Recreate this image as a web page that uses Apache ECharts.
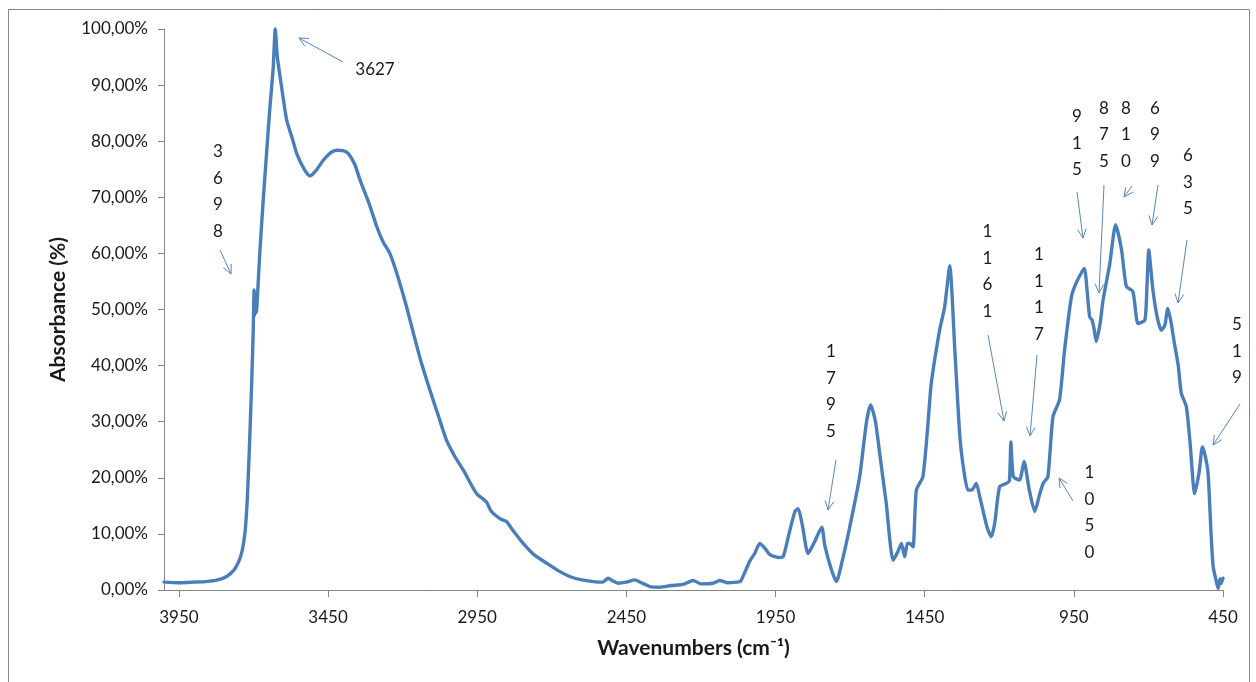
<!DOCTYPE html>
<html>
<head>
<meta charset="utf-8">
<script src="https://cdn.jsdelivr.net/npm/echarts@6/dist/echarts.min.js"></script>
<style>
  html, body { margin: 0; padding: 0; background: #fff; }
  #chart { width: 1256px; height: 682px; }
</style>
</head>
<body>
<div id="chart"></div>
<script>
// IR spectrum: wavenumber (cm-1) and absorbance (%)
const wavenumbers = [
  4000, 3950, 3900, 3860, 3820, 3790, 3765, 3750, 3738, 3728, 3721, 3714, 3706, 3701,
  3698, 3696, 3693, 3690, 3687, 3679, 3668, 3656, 3645, 3634, 3627, 3620, 3606, 3589,
  3570, 3555, 3530, 3511, 3490, 3466, 3440, 3421, 3400, 3382, 3360, 3343, 3310, 3287,
  3265, 3243, 3220, 3187, 3164, 3140, 3109, 3080, 3053, 3025, 2997, 2965, 2952, 2930,
  2919, 2905, 2891, 2870, 2852, 2830, 2796, 2760, 2718, 2680, 2640, 2600, 2561, 2530,
  2511, 2495, 2478, 2450, 2422, 2400, 2371, 2338, 2300, 2260, 2226, 2200, 2160, 2137,
  2110, 2080, 2068, 2050, 2036, 2020, 2003, 1985, 1969, 1940, 1925, 1905, 1885, 1874,
  1860, 1841, 1820, 1795, 1785, 1765, 1746, 1725, 1701, 1668, 1645, 1631, 1615, 1600,
  1579, 1556, 1540, 1528, 1517, 1508, 1500, 1489, 1478, 1456, 1440, 1428, 1400, 1383,
  1366, 1349, 1332, 1318, 1305, 1290, 1277, 1265, 1255, 1240, 1227, 1215, 1199, 1176,
  1166, 1161, 1153, 1132, 1117, 1100, 1081, 1065, 1053, 1037, 1020, 998, 981, 958,
  940, 915, 905, 897, 889, 882, 875, 862, 852, 830, 810, 790, 774, 752, 735, 712,
  705, 699, 685, 670, 657, 645, 635, 625, 613, 600, 590, 573, 560, 545, 530, 519,
  510, 500, 490, 483, 470, 466, 460, 456, 450
];
const absorbance = [
  1.4, 1.3, 1.4, 1.5, 1.8, 2.4, 3.6, 5.0, 7.0, 10.5, 16, 25, 37, 46,
  53.5, 49, 53, 49.5, 52, 60, 69, 78, 86, 93, 100, 95, 89.7, 83.8,
  80.5, 77.8, 75, 73.8, 74.8, 76.6, 78, 78.4, 78.3, 77.8, 75.8, 73.1, 68.5, 64.8,
  62, 60, 56.5, 50.5, 45.8, 41, 35.7, 31, 26.7, 23.8, 21.4, 18.3, 17.2, 16.2,
  15.7, 14.2, 13.4, 12.6, 12.2, 10.6, 8.3, 6.3, 4.8, 3.5, 2.4, 1.8, 1.5, 1.4,
  2.1, 1.6, 1.2, 1.4, 1.8, 1.3, 0.6, 0.5, 0.8, 1.0, 1.7, 1.1, 1.2, 1.7,
  1.3, 1.4, 1.5, 3.5, 5.2, 6.5, 8.3, 7.4, 6.3, 5.8, 5.9, 10, 14, 14.5,
  11.5, 6.5, 8.5, 11.2, 8, 4, 1.5, 5.5, 11.3, 20.2, 30, 33, 30, 24,
  15.5, 5.3, 6.8, 8.3, 5.9, 8.3, 8.3, 7.7, 17.8, 20.2, 29, 36.8, 46.3, 50.5,
  57.8, 42.8, 27.3, 21, 17.8, 17.9, 19, 16.5, 14.3, 11, 9.5, 12, 18.4, 19,
  19.5, 26.4, 20.2, 19.6, 22.9, 18, 14, 17, 19, 20.2, 30.9, 33.9, 42.8, 52.3,
  55, 57.3, 53, 48.7, 48.1, 46.5, 44.3, 47.5, 51.7, 58, 65.1, 60.6, 54.1, 53.2, 47.5, 48.1,
  54, 60.6, 53.5, 48.5, 46.3, 47.2, 50.2, 48, 44, 40, 35.1, 32.7, 26, 17.2, 21, 25.5,
  24, 20.8, 10, 4.2, 1.0, 0.3, 2.0, 1.2, 2.1
];
// Tick positions on the wavenumber axis
const xTickValues = [3950, 3450, 2950, 2450, 1950, 1450, 950, 450];
// Band assignments marked on the spectrum
const bandLabels = ['3627', '3698', '1795', '1161', '1117', '1050', '915', '875', '810', '699', '635', '519'];

// Placement of each band label and its pointer (pixels)
const bandLayout = [
  { horizontal: true, x: 375, y: 70, arrow: [343, 62, 299, 38] },
  { x: 218, y: 151.7, arrow: [220, 250, 231, 274] },
  { x: 831, y: 351.7, arrow: [836, 460, 828, 510] },
  { x: 987.5, y: 231.7, arrow: [988, 335, 1004, 421] },
  { x: 1039, y: 255, arrow: [1037, 355, 1030, 436] },
  { x: 1089.5, y: 472.7, arrow: [1073, 501, 1059, 478] },
  { x: 1077, y: 116.7, arrow: [1077, 192, 1083, 238] },
  { x: 1104, y: 108.3, arrow: [1104, 185, 1099, 293] },
  { x: 1126, y: 108.3, arrow: [1132, 186, 1124, 197] },
  { x: 1155, y: 108.3, arrow: [1158, 185, 1152, 225] },
  { x: 1188, y: 156, arrow: [1187, 240, 1178, 303] },
  { x: 1237, y: 325, arrow: [1240, 404, 1213, 445] }
];

const FONT = 'Lato, "Open Sans", "DejaVu Sans", sans-serif';
const LINE_COLOR = '#4A7EBB';
const AXIS_COLOR = '#868686';
const TEXT_COLOR = '#1a1a1a';
const DIGIT_STEP = 26.5;

function arrowShapes(a) {
  const [x1, y1, x2, y2] = a;
  const ang = Math.atan2(y2 - y1, x2 - x1);
  const len = 10, spread = 0.45;
  const b1 = [x2 - len * Math.cos(ang - spread), y2 - len * Math.sin(ang - spread)];
  const b2 = [x2 - len * Math.cos(ang + spread), y2 - len * Math.sin(ang + spread)];
  const style = { stroke: '#5b86bd', lineWidth: 1, fill: null };
  return [
    { type: 'polyline', shape: { points: [[x1, y1], [x2, y2]] }, style, silent: true },
    { type: 'polyline', shape: { points: [b1, [x2, y2], b2] }, style, silent: true }
  ];
}

const graphics = [
  {
    type: 'rect',
    shape: { x: 8.5, y: 9.5, width: 1241, height: 690 },
    style: { fill: null, stroke: AXIS_COLOR, lineWidth: 1 },
    silent: true
  }
];
bandLabels.forEach((label, i) => {
  const L = bandLayout[i];
  const text = L.horizontal ? label : label.split('').join('\n');
  graphics.push({
    type: 'text',
    x: L.x,
    y: L.horizontal ? L.y : L.y - DIGIT_STEP / 2,
    style: {
      text,
      fill: TEXT_COLOR,
      fontFamily: FONT,
      fontSize: 17,
      lineHeight: DIGIT_STEP,
      align: 'center',
      verticalAlign: L.horizontal ? 'middle' : 'top'
    },
    silent: true
  });
  graphics.push(...arrowShapes(L.arrow));
});

const chart = echarts.init(document.getElementById('chart'), null, { renderer: 'canvas' });
chart.setOption({
  animation: false,
  backgroundColor: '#fff',
  grid: { left: 164, right: 33, top: 29, bottom: 92, containLabel: false, outerBoundsMode: 'none' },
  xAxis: {
    type: 'value',
    inverse: true,
    min: 450,
    max: 4000,
    name: 'Wavenumbers (cm\u207B\u00B9)',
    nameLocation: 'middle',
    nameGap: 48,
    nameTextStyle: { fontFamily: FONT, fontSize: 21, fontWeight: 'bold', color: TEXT_COLOR },
    axisLine: { show: true, lineStyle: { color: AXIS_COLOR, width: 1 } },
    axisTick: { show: true, length: 7, customValues: xTickValues, lineStyle: { color: AXIS_COLOR } },
    axisLabel: {
      customValues: xTickValues,
      showMinLabel: true, showMaxLabel: true,
      margin: 19,
      fontFamily: FONT, fontSize: 17, color: TEXT_COLOR,
      formatter: v => String(v)
    },
    splitLine: { show: false }
  },
  yAxis: {
    type: 'value',
    min: 0,
    max: 100,
    interval: 10,
    name: 'Absorbance (%)',
    nameLocation: 'middle',
    nameGap: 95,
    nameTextStyle: { fontFamily: FONT, fontSize: 21, fontWeight: 'bold', color: TEXT_COLOR },
    axisLine: { show: true, lineStyle: { color: AXIS_COLOR, width: 1 } },
    axisTick: { show: true, length: 6, lineStyle: { color: AXIS_COLOR } },
    axisLabel: {
      margin: 16,
      fontFamily: FONT, fontSize: 17, color: TEXT_COLOR,
      formatter: v => v.toFixed(2).replace('.', ',') + '%'
    },
    splitLine: { show: false }
  },
  series: [{
    type: 'line',
    data: wavenumbers.map((w, i) => [w, absorbance[i]]),
    showSymbol: false,
    symbol: 'none',
    smooth: 0.2,
    lineStyle: { color: LINE_COLOR, width: 3.4, join: 'round', cap: 'round' },
    clip: false
  }],
  graphic: graphics
});
</script>
</body>
</html>
